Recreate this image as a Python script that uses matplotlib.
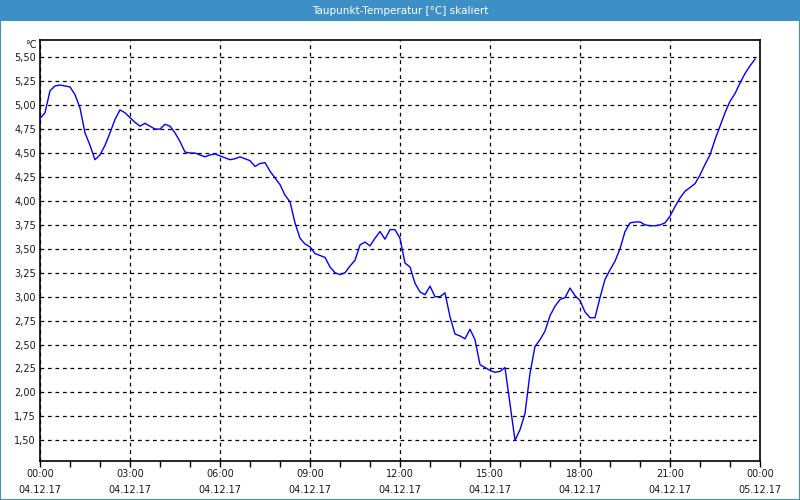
import pandas as pd
import matplotlib
matplotlib.use('Agg')
import matplotlib.pyplot as plt
import matplotlib.dates as mdates
from matplotlib.patches import Rectangle

# dew point readings, one every 10 minutes from 04.12.17 00:00
taupunkt = [
    4.86, 4.92, 5.15, 5.20, 5.21, 5.20, 5.19, 5.11, 4.97, 4.71, 4.58, 4.43,
    4.48, 4.58, 4.71, 4.85, 4.95, 4.92, 4.87, 4.82, 4.78, 4.81, 4.78, 4.75,
    4.75, 4.80, 4.78, 4.71, 4.62, 4.51, 4.50, 4.50, 4.48, 4.46, 4.48, 4.49,
    4.47, 4.45, 4.43, 4.44, 4.46, 4.44, 4.42, 4.36, 4.39, 4.40, 4.31, 4.24,
    4.17, 4.06, 3.99, 3.77, 3.61, 3.55, 3.52, 3.45, 3.43, 3.41, 3.31, 3.25,
    3.23, 3.25, 3.32, 3.38, 3.54, 3.57, 3.53, 3.61, 3.68, 3.60, 3.70, 3.70,
    3.61, 3.35, 3.31, 3.14, 3.05, 3.02, 3.11, 3.00, 3.00, 3.04, 2.79, 2.61,
    2.59, 2.56, 2.66, 2.55, 2.29, 2.26, 2.23, 2.21, 2.22, 2.26, 1.88, 1.50,
    1.61, 1.78, 2.20, 2.48, 2.55, 2.64, 2.80, 2.90, 2.97, 2.99, 3.09, 3.01,
    2.96, 2.84, 2.78, 2.78, 2.99, 3.18, 3.28, 3.37, 3.50, 3.68, 3.77, 3.78,
    3.78, 3.75, 3.74, 3.74, 3.75, 3.77, 3.84, 3.94, 4.03, 4.10, 4.14, 4.18,
    4.27, 4.38, 4.48, 4.64, 4.78, 4.92, 5.04, 5.12, 5.23, 5.33, 5.41, 5.48,
]
start = "2017-12-04 00:00"
end = "2017-12-05 00:00"
zeiten = pd.date_range(start, periods=len(taupunkt), freq="10min")
y_ticks = [1.50, 1.75, 2.00, 2.25, 2.50, 2.75, 3.00, 3.25, 3.50, 3.75, 4.00, 4.25, 4.50, 4.75, 5.00, 5.25, 5.50]
titel = "Taupunkt-Temperatur [°C] skaliert"

blau = "#3d8fc6"

fig = plt.figure(figsize=(8, 5), dpi=100, facecolor="white")

# title bar and frame
fig.patches.append(Rectangle((0, 1 - 21 / 500), 1, 21 / 500, transform=fig.transFigure,
                             facecolor=blau, edgecolor="none", zorder=0))
fig.patches.append(Rectangle((0.0006, 0.001), 0.9988, 0.998, transform=fig.transFigure,
                             facecolor="none", edgecolor=blau, linewidth=1.5, zorder=1))
fig.text(0.5, 1 - 10.5 / 500, titel, color="white", ha="center", va="center", fontsize=7.5)

ax = fig.add_axes([40 / 800, 39 / 500, 720 / 800, 421 / 500])
ax.plot(zeiten, taupunkt, color="#0000ff", linewidth=1.0, zorder=3)

ax.set_xlim(pd.Timestamp(start), pd.Timestamp(end))
ax.set_ylim(1.284, 5.68)

ax.xaxis.set_major_locator(mdates.HourLocator(byhour=range(0, 24, 3)))
ax.xaxis.set_minor_locator(mdates.HourLocator())
ax.xaxis.set_major_formatter(mdates.DateFormatter("%H:%M\n%d.%m.%y"))
ax.set_yticks(y_ticks)
ax.set_yticklabels([f"{v:.2f}".replace(".", ",") for v in y_ticks])

ax.grid(True, which="major", color="black", linestyle=(0, (3, 3)), linewidth=0.9)
ax.tick_params(axis="x", which="major", length=4, width=1, pad=2, labelsize=7, labelcolor="#1a1a1a")
ax.tick_params(axis="x", which="minor", length=4, width=1)
ax.tick_params(axis="y", length=0, pad=3, labelsize=7, labelcolor="#1a1a1a")
for lbl in ax.get_xticklabels():
    lbl.set_linespacing(1.75)

for sp in ax.spines.values():
    sp.set_linewidth(1.2)
    sp.set_color("black")

fig.text(37 / 800, 1 - 45 / 500, "°C", ha="right", va="center", fontsize=7, color="#1a1a1a")

fig.savefig("out.png", dpi=100, facecolor="white")
